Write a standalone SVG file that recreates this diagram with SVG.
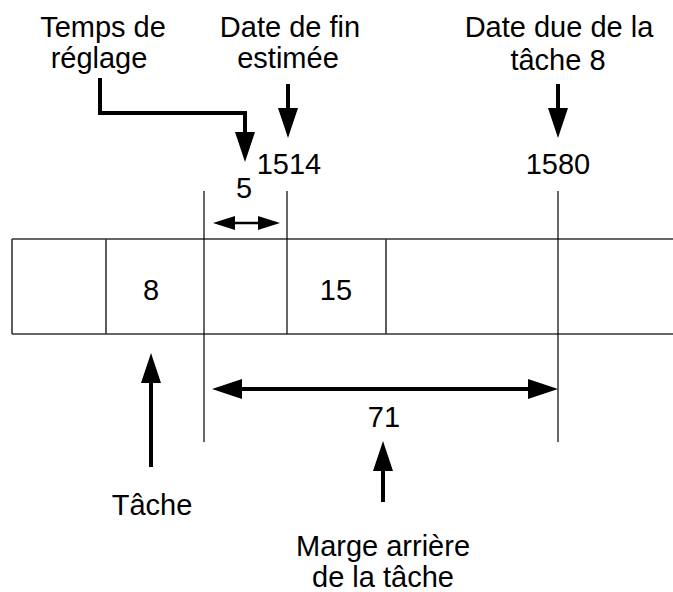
<svg xmlns="http://www.w3.org/2000/svg" width="673" height="592" viewBox="0 0 673 592">
<style>
text{font-family:"Liberation Sans",Arial,sans-serif;font-size:29px;fill:#000;text-anchor:middle}
.row{stroke:#333;stroke-width:1.6;fill:none}
.guide{stroke:#000;stroke-width:1.2;fill:none}
.arr{stroke:#000;stroke-width:4;fill:none}
.thin{stroke:#000;stroke-width:2.5;fill:none}
</style>
<defs>
<marker id="ah" markerUnits="userSpaceOnUse" markerWidth="30" markerHeight="20" refX="23" refY="10" orient="auto" viewBox="0 0 30 20">
<path d="M0,0 L30,10 L0,20 Z" fill="#000"/>
</marker>
<marker id="ahs" markerUnits="userSpaceOnUse" markerWidth="22" markerHeight="14" refX="17" refY="7" orient="auto-start-reverse" viewBox="0 0 22 14">
<path d="M0,0 L22,7 L0,14 Z" fill="#000"/>
</marker>
<marker id="ahm" markerUnits="userSpaceOnUse" markerWidth="30" markerHeight="20" refX="23" refY="10" orient="auto-start-reverse" viewBox="0 0 30 20">
<path d="M0,0 L30,10 L0,20 Z" fill="#000"/>
</marker>
</defs>
<g id="timeline">
<line class="row" x1="12" y1="239" x2="673" y2="239"/>
<line class="row" x1="12" y1="334" x2="673" y2="334"/>
<line class="row" x1="12" y1="239" x2="12" y2="334"/>
<line class="row" x1="106" y1="239" x2="106" y2="334"/>
<line class="row" x1="386" y1="239" x2="386" y2="334"/>
<line class="guide" x1="204" y1="191" x2="204" y2="442"/>
<line class="guide" x1="287" y1="191" x2="287" y2="334"/>
<line class="guide" x1="558" y1="191" x2="558" y2="442"/>
</g>
<g id="task8"><text x="151" y="300">8</text></g>
<g id="task15"><text x="336" y="300">15</text></g>
<g id="reglage"><text x="103" y="37">Temps de</text><text x="99" y="68">réglage</text></g>
<g id="datefin"><text x="290" y="37">Date de fin</text><text x="288" y="68">estimée</text></g>
<g id="datedue"><text x="559" y="37">Date due de la</text><text x="558" y="70">tâche 8</text></g>
<g id="v1514"><text x="289" y="174">1514</text></g>
<g id="v1580"><text x="558" y="174">1580</text></g>
<g id="v5"><text x="244" y="198">5</text></g>
<g id="v71"><text x="384" y="427">71</text></g>
<g id="tache"><text x="152" y="515">Tâche</text></g>
<g id="marge"><text x="383" y="556">Marge arrière</text><text x="383" y="587">de la tâche</text></g>
<g id="connectors">
<path class="arr" d="M100,78 V113 H245 V155" marker-end="url(#ah)"/>
<path class="arr" d="M288,84 V131" marker-end="url(#ah)"/>
<path class="arr" d="M558,84 V131" marker-end="url(#ah)"/>
<path class="thin" d="M218,223 H275" marker-start="url(#ahs)" marker-end="url(#ahs)"/>
<path class="arr" d="M219,389 H551" marker-start="url(#ahm)" marker-end="url(#ahm)"/>
<path class="arr" d="M151,467 V360" marker-end="url(#ah)"/>
<path class="arr" d="M383,502 V448" marker-end="url(#ah)"/>
</g>
</svg>
